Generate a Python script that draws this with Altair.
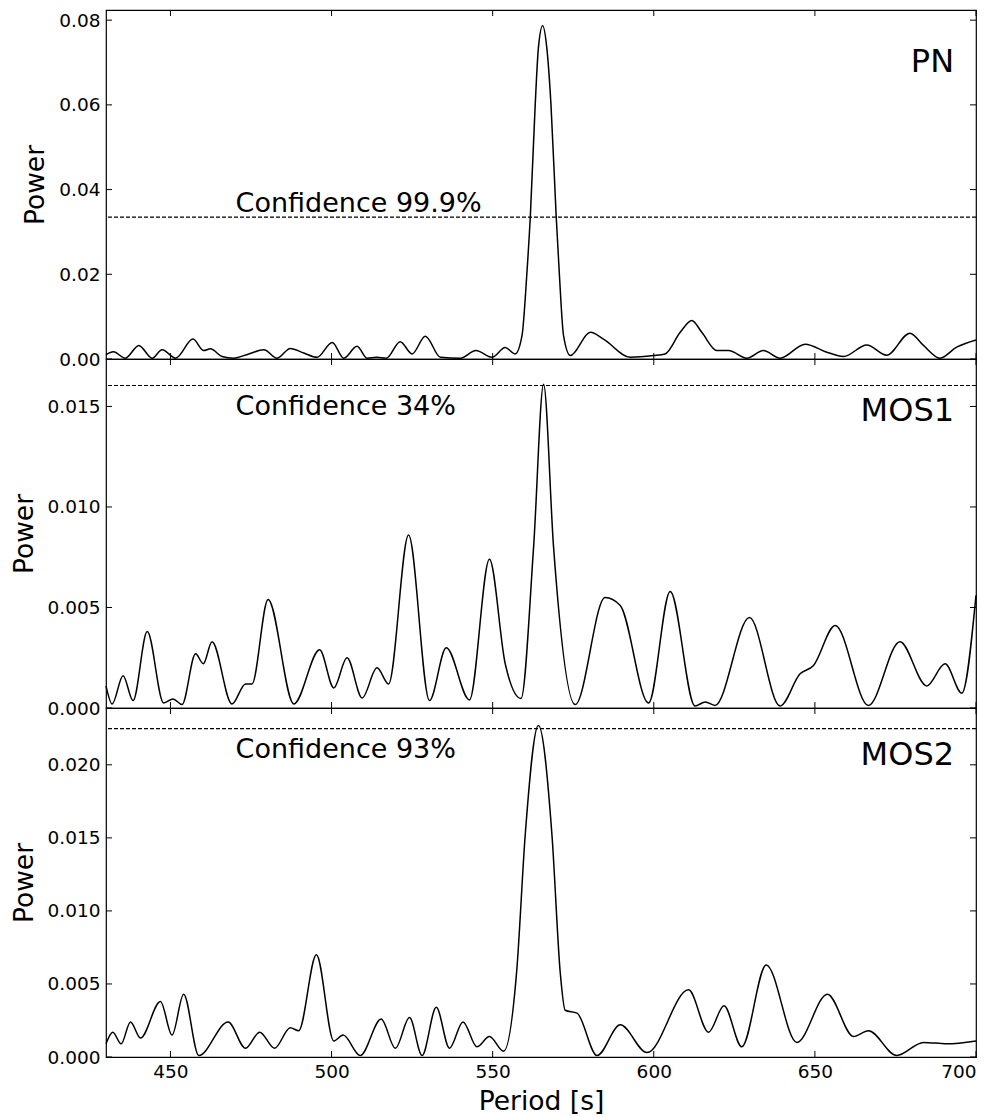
import altair as alt
import pandas as pd

FONT = "DejaVu Sans"
W = 870
H = 349
TICK = 6

x_ticks = [450, 500, 550, 600, 650, 700]

# ---- PN ----
pn_period = [430.0, 432.3, 436.0, 440.2, 444.3, 447.4, 451.6, 457.0, 460.3, 462.4, 466.0, 469.6,
             474.3, 479.0, 483.1, 487.2, 491.4, 495.5, 500.2, 503.8, 507.9, 511.0, 514.0, 517.0,
             521.3, 525.0, 529.1, 533.8, 540.0, 544.8, 549.8, 553.9, 557.0, 559.1, 560.6, 561.7,
             563.2, 564.2, 565.5, 566.8, 568.1, 569.7, 570.7, 572.0, 574.1, 580.3, 584.4, 592.7,
             599.9, 603.5, 608.2, 611.8, 614.9, 619.6, 623.2, 628.9, 634.0, 639.2, 647.0, 653.7,
             658.9, 666.1, 672.3, 679.5, 683.7, 688.8, 694.0, 700.0]
pn_power = [0.0010, 0.0017, 0.0002, 0.0032, 0.0002, 0.0022, 0.0002, 0.0047, 0.0020, 0.0024, 0.0006, 0.0002,
            0.0012, 0.0022, 0.0002, 0.0025, 0.0014, 0.0004, 0.0039, 0.0002, 0.0030, 0.0002, 0.0004, 0.0002,
            0.0041, 0.0012, 0.0054, 0.0004, 0.0002, 0.0020, 0.0004, 0.0027, 0.0012, 0.0055, 0.0200, 0.0339,
            0.0600, 0.0735, 0.0787, 0.0735, 0.0600, 0.0339, 0.0200, 0.0055, 0.0008, 0.0063, 0.0047, 0.0004,
            0.0008, 0.0012, 0.0063, 0.0091, 0.0063, 0.0020, 0.0020, 0.0002, 0.0020, 0.0002, 0.0035, 0.0016,
            0.0006, 0.0033, 0.0009, 0.0061, 0.0032, 0.0002, 0.0028, 0.0045]

# ---- MOS1 ----
m1_period = [430.0, 431.9, 435.3, 438.4, 442.8, 447.9, 450.8, 453.6, 457.8, 460.2, 462.9, 469.1,
             473.3, 475.3, 480.3, 488.3, 496.3, 500.7, 504.8, 509.5, 514.1, 517.7, 523.9, 530.4,
             535.6, 542.8, 549.0, 553.9, 558.8, 562.7, 565.8, 568.9, 575.6, 584.9, 589.6, 598.4,
             605.1, 612.8, 616.0, 619.0, 629.7, 639.2, 645.4, 649.5, 656.3, 666.6, 676.4, 684.7,
             690.4, 695.6, 700.0]
m1_power = [0.0011, 0.0002, 0.0016, 0.00037, 0.0038, 0.00025, 0.00045, 0.00017, 0.0027, 0.0022, 0.0033, 0.0002,
            0.0012, 0.0012, 0.0054, 0.0002, 0.0029, 0.0010, 0.0025, 0.0005, 0.0020, 0.0012, 0.0086, 0.00037,
            0.0030, 0.0004, 0.0074, 0.0022, 0.00047, 0.0080, 0.0161, 0.0080, 0.00017, 0.0055, 0.0051, 0.00025,
            0.0058, 0.0001, 0.0003, 0.00013, 0.0045, 0.0001, 0.0017, 0.0021, 0.0041, 0.00013, 0.0033, 0.0011,
            0.0022, 0.00074, 0.0056]

# ---- MOS2 ----
m2_period = [430.0, 432.1, 434.7, 437.6, 440.7, 446.9, 450.5, 454.1, 458.8, 467.9, 473.3, 477.7,
             482.3, 487.2, 489.8, 495.3, 500.7, 503.6, 508.9, 515.4, 519.8, 524.2, 528.1, 532.5,
             536.6, 540.8, 545.1, 549.0, 553.4, 557.5, 560.1, 564.2, 568.4, 571.0, 572.5, 576.2,
             582.4, 589.6, 597.9, 610.8, 617.0, 621.8, 627.3, 634.9, 644.4, 653.9, 662.0, 666.6,
             675.4, 683.7, 690.9, 700.0]
m2_power = [0.0009, 0.0017, 0.0009, 0.0024, 0.0013, 0.0038, 0.0015, 0.0043, 0.0001, 0.0024, 0.0006, 0.0017,
            0.0006, 0.0020, 0.0018, 0.0070, 0.0011, 0.0015, 0.0001, 0.0026, 0.0006, 0.0027, 0.0001, 0.0034,
            0.0006, 0.0024, 0.0007, 0.0014, 0.0004, 0.0060, 0.0152, 0.0227, 0.0152, 0.0057, 0.0032, 0.0030,
            0.0001, 0.0022, 0.0003, 0.0046, 0.0017, 0.0035, 0.0007, 0.0063, 0.0010, 0.0043, 0.0014, 0.0018,
            0.0001, 0.0010, 0.0009, 0.0011]

panels = [
    dict(period=pn_period, power=pn_power, ymax=0.0824, yticks=[0, 0.02, 0.04, 0.06, 0.08], fmt=".2f",
         conf=0.0335, conf_text="Confidence 99.9%", conf_y=0.0347, name="PN", name_y=0.0678),
    dict(period=m1_period, power=m1_power, ymax=0.01736, yticks=[0, 0.005, 0.010, 0.015], fmt=".3f",
         conf=0.01604, conf_text="Confidence 34%", conf_y=0.01455, name="MOS1", name_y=0.0143),
    dict(period=m2_period, power=m2_power, ymax=0.02389, yticks=[0, 0.005, 0.010, 0.015, 0.020], fmt=".3f",
         conf=0.02248, conf_text="Confidence 93%", conf_y=0.0205, name="MOS2", name_y=0.0200),
]

CONF_X = 470.2
NAME_X = 693.2


def make_panel(p, bottom):
    df = pd.DataFrame({"Period": p["period"], "Power": p["power"]})
    xs = alt.Scale(domain=[430, 700], nice=False, zero=False)
    ys = alt.Scale(domain=[0, p["ymax"]], nice=False, zero=False)

    ax_x = alt.Axis(orient="bottom", values=x_ticks, labels=bottom, tickSize=0, domain=False,
                    grid=False, labelPadding=5, titlePadding=8, format="d",
                    title="Period [s]" if bottom else None)
    ax_y = alt.Axis(orient="left", values=p["yticks"], format=p["fmt"], tickSize=0,
                    domain=False, grid=False, labelPadding=6, titlePadding=9, title="Power")

    main = alt.Chart(df).mark_line(color="black", strokeWidth=1.5, interpolate="monotone").encode(
        x=alt.X("Period:Q", scale=xs, axis=ax_x),
        y=alt.Y("Power:Q", scale=ys, axis=ax_y),
    )

    # inward tick marks on all four sides, placed through the scales
    xt = pd.DataFrame({"v": x_ticks})
    yt = pd.DataFrame({"v": p["yticks"]})
    tick_style = dict(color="black", strokeWidth=1)
    xb = alt.Chart(xt).mark_rule(**tick_style).encode(
        x=alt.X("v:Q", scale=xs, axis=ax_x), y=alt.value(H), y2=alt.value(H - TICK))
    xtop = alt.Chart(xt).mark_rule(**tick_style).encode(
        x=alt.X("v:Q", scale=xs, axis=ax_x), y=alt.value(0), y2=alt.value(TICK))
    yl = alt.Chart(yt).mark_rule(**tick_style).encode(
        y=alt.Y("v:Q", scale=ys, axis=ax_y), x=alt.value(0), x2=alt.value(TICK))
    yr = alt.Chart(yt).mark_rule(**tick_style).encode(
        y=alt.Y("v:Q", scale=ys, axis=ax_y), x=alt.value(W - TICK), x2=alt.value(W))

    conf_df = pd.DataFrame({"c": [p["conf"]]})
    rule = alt.Chart(conf_df).mark_rule(color="black", strokeWidth=1.1, strokeDash=[4, 2]).encode(
        y=alt.Y("c:Q", scale=ys, axis=ax_y)
    )
    ann_df = pd.DataFrame({"x": [CONF_X], "y": [p["conf_y"]], "t": [p["conf_text"]]})
    conf_txt = alt.Chart(ann_df).mark_text(align="left", baseline="alphabetic", font=FONT,
                                           fontSize=27, color="black").encode(
        x=alt.X("x:Q", scale=xs, axis=ax_x), y=alt.Y("y:Q", scale=ys, axis=ax_y), text="t:N")
    name_df = pd.DataFrame({"x": [NAME_X], "y": [p["name_y"]], "t": [p["name"]]})
    name_txt = alt.Chart(name_df).mark_text(align="right", baseline="alphabetic", font=FONT,
                                            fontSize=32, color="black").encode(
        x=alt.X("x:Q", scale=xs, axis=ax_x), y=alt.Y("y:Q", scale=ys, axis=ax_y), text="t:N")

    return alt.layer(main, xb, xtop, yl, yr, rule, conf_txt, name_txt).properties(width=W, height=H)


chart = alt.vconcat(
    make_panel(panels[0], False),
    make_panel(panels[1], False),
    make_panel(panels[2], True),
    spacing=0, bounds="flush",
).configure_view(stroke="black", strokeWidth=1.2).configure_axis(
    labelFont=FONT, titleFont=FONT, labelColor="black", titleColor="black",
    labelFontSize=18.5, titleFontSize=26.5, titleFontWeight="normal",
).properties(padding={"left": 10, "top": 8, "right": 10, "bottom": 5}, background="white")

chart.save("out.html", embed_options={"renderer": "svg", "actions": False})
